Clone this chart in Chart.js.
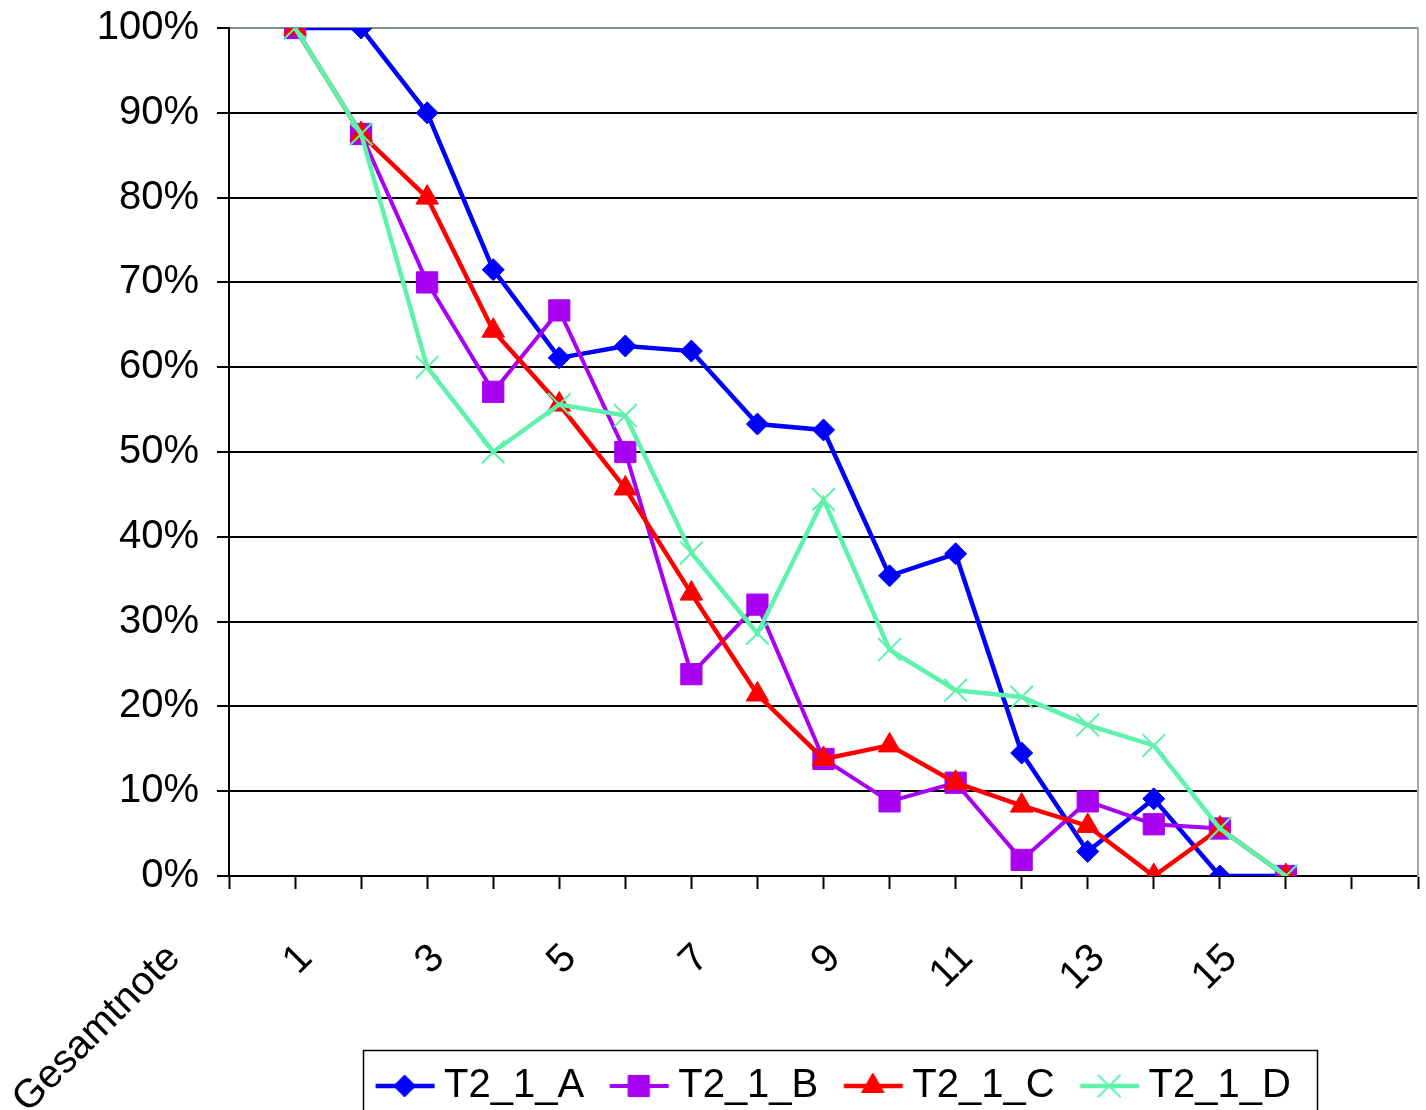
<!DOCTYPE html>
<html>
<head>
<meta charset="utf-8">
<title>Gesamtnote</title>
<script src="https://cdn.jsdelivr.net/npm/chart.js@4.4.1/dist/chart.umd.min.js"></script>
<style>
  html, body { margin: 0; padding: 0; background: #fff; }
  #wrap { position: relative; width: 1426px; height: 1110px; }
</style>
</head>
<body>
<div id="wrap"><canvas id="chart"></canvas></div>
<script>
// --- Daten ---
const categories = [1, 2, 3, 4, 5, 6, 7, 8, 9, 10, 11, 12, 13, 14, 15, 16];
const seriesNames = ['T2_1_A', 'T2_1_B', 'T2_1_C', 'T2_1_D'];

const valuesA = [100, 100, 90, 71.5, 61.1, 62.5, 61.9, 53.3, 52.6, 35.4, 38.0, 14.5, 2.9, 9.1, 0, 0];
const valuesB = [100, 87.5, 70, 57.1, 66.7, 50, 23.8, 32.0, 13.8, 8.8, 11.0, 1.9, 8.8, 6.1, 5.6, 0];
const valuesC = [100, 87.5, 80, 64.3, 55.6, 45.7, 33.3, 21.4, 13.8, 15.4, 11.0, 8.3, 5.9, 0, 5.6, 0];
const valuesD = [100, 87.5, 60, 50, 55.6, 54.3, 38.1, 28.6, 44.4, 26.7, 21.9, 21.1, 17.8, 15.4, 5.6, 0];

// Beschriftungen der x-Achse (nur jede zweite Note, plus Achsentitel links)
const xTickValues = [-1, 1, 3, 5, 7, 9, 11, 13, 15];
const xTickLabels = ['Gesamtnote', '1', '3', '5', '7', '9', '11', '13', '15'];

const FONT = '"Liberation Sans", Arial, sans-serif';

const styles = [
  { color: '#0000FF', point: 'rectRot',  radius: 11, line: 4.5 },
  { color: '#A800F0', point: 'rect',     radius: 15, line: 4 },
  { color: '#FF0000', point: 'triangle', radius: 13, line: 4.5 },
  { color: '#5EF2AC', point: 'crossRot', radius: 16, line: 4.5 }
];

// Legendensymbol: Linie mit Marker in der Mitte
function legendSymbol(st) {
  const c = document.createElement('canvas');
  c.width = 92;
  c.height = 36;
  const ctx = c.getContext('2d');
  ctx.strokeStyle = st.color;
  ctx.fillStyle = st.color;
  ctx.lineWidth = st.line;
  ctx.beginPath();
  ctx.moveTo(31.5, 18);
  ctx.lineTo(90.5, 18);
  ctx.stroke();
  ctx.lineWidth = st.point === 'crossRot' ? 2 : 1;
  Chart.helpers.drawPoint(ctx, {
    pointStyle: st.point, radius: st.radius, rotation: 0,
    borderWidth: ctx.lineWidth
  }, 60.5, 18);
  return c;
}

// Innenabstaende der Achsen nicht in das Layout einrechnen
function noPadding(scale) {
  scale.paddingTop = 0;
  scale.paddingBottom = 0;
  scale.paddingLeft = 0;
  scale.paddingRight = 0;
}

const allValues = [valuesA, valuesB, valuesC, valuesD];
const datasets = allValues.map((vals, i) => ({
  label: seriesNames[i],
  data: vals,
  borderColor: styles[i].color,
  backgroundColor: styles[i].color,
  borderWidth: styles[i].line,
  pointStyle: styles[i].point,
  pointRadius: styles[i].radius,
  pointHoverRadius: styles[i].radius,
  pointBorderWidth: styles[i].point === 'crossRot' ? 2 : 1,
  pointBackgroundColor: styles[i].color,
  pointBorderColor: styles[i].color,
  tension: 0,
  fill: false,
  order: 3 - i // D oben, A unten
}));

// x-Beschriftung darf bis zum unteren Rand reichen (sonst wird "Gesamtnote" abgeschnitten)
const labelRoom = {
  id: 'labelRoom',
  afterLayout(chart) {
    chart.scales.x.bottom = chart.height;
  }
};

// Rahmen um die Legende
const legendFrame = {
  id: 'legendFrame',
  afterDraw(chart) {
    const lg = chart.legend;
    const hb = lg && lg.legendHitBoxes;
    if (!hb || !hb.length) return;
    const first = hb[0];
    const last = hb[hb.length - 1];
    const left = Math.round(first.left + 7) + 0.5;
    const right = Math.round(last.left + last.width + 26) + 0.5;
    const ctx = chart.ctx;
    ctx.save();
    ctx.strokeStyle = '#000';
    ctx.lineWidth = 1.5;
    ctx.strokeRect(left, Math.round(lg.top - 10) + 0.5, right - left, 120);
    ctx.restore();
  }
};

new Chart(document.getElementById('chart'), {
  type: 'line',
  data: { labels: categories, datasets: datasets },
  options: {
    responsive: true,
    maintainAspectRatio: false,
    animation: false,
    layout: { autoPadding: false, padding: { left: 0, right: 8, top: 28, bottom: -6 } },
    plugins: {
      tooltip: { enabled: false },
      legend: {
        display: true,
        position: 'bottom',
        fullSize: false,
        align: 'center',
        labels: {
          usePointStyle: true,
          pointStyleWidth: 68,
          padding: 6,
          color: '#000',
          font: { family: FONT, size: 40 },
          generateLabels: chart => chart.data.datasets.map((ds, i) => ({
            text: ds.label,
            pointStyle: legendSymbol(styles[i]),
            fillStyle: ds.borderColor,
            strokeStyle: ds.borderColor,
            lineWidth: 0,
            hidden: false,
            datasetIndex: i
          }))
        }
      }
    },
    scales: {
      x: {
        type: 'linear',
        min: 0,
        max: 18,
        offset: false,
        afterBuildTicks: scale => { scale.ticks.unshift({ value: -1 }); },
        afterFit: scale => {
          scale.height = 184;
          noPadding(scale);
        },
        border: { display: true, color: '#000', width: 2 },
        grid: {
          drawOnChartArea: false,
          drawTicks: true,
          tickLength: 13,
          tickWidth: 2,
          color: ctx => (ctx.tick && ctx.tick.value < 0) ? 'rgba(0,0,0,0)' : '#000'
        },
        ticks: {
          stepSize: 1,
          autoSkip: false,
          minRotation: 45,
          maxRotation: 45,
          padding: 46,
          labelOffset: 11,
          color: '#000',
          font: { family: FONT, size: 40 },
          callback: value => {
            const k = xTickValues.indexOf(value);
            return k >= 0 ? xTickLabels[k] : '';
          }
        }
      },
      y: {
        type: 'linear',
        position: 'left',
        min: 0,
        max: 100,
        afterFit: scale => {
          scale.width = 229;
          noPadding(scale);
        },
        border: { display: true, color: '#000', width: 2 },
        grid: {
          color: ctx => (ctx.tick && ctx.tick.value === 100) ? '#808C8C' : '#000',
          lineWidth: 2,
          tickLength: 12,
          tickWidth: 2,
          tickColor: '#000'
        },
        ticks: {
          stepSize: 10,
          padding: 18,
          color: '#000',
          font: { family: FONT, size: 40 },
          callback: value => value + '%'
        }
      },
      y1: {
        type: 'linear',
        position: 'right',
        min: 0,
        max: 100,
        afterFit: scale => {
          scale.width = 0;
          noPadding(scale);
        },
        border: { display: true, color: '#A0AAAA', width: 2 },
        grid: { display: false, drawTicks: false },
        ticks: { display: false, padding: 0 }
      }
    }
  },
  plugins: [labelRoom, legendFrame]
});
</script>
</body>
</html>
